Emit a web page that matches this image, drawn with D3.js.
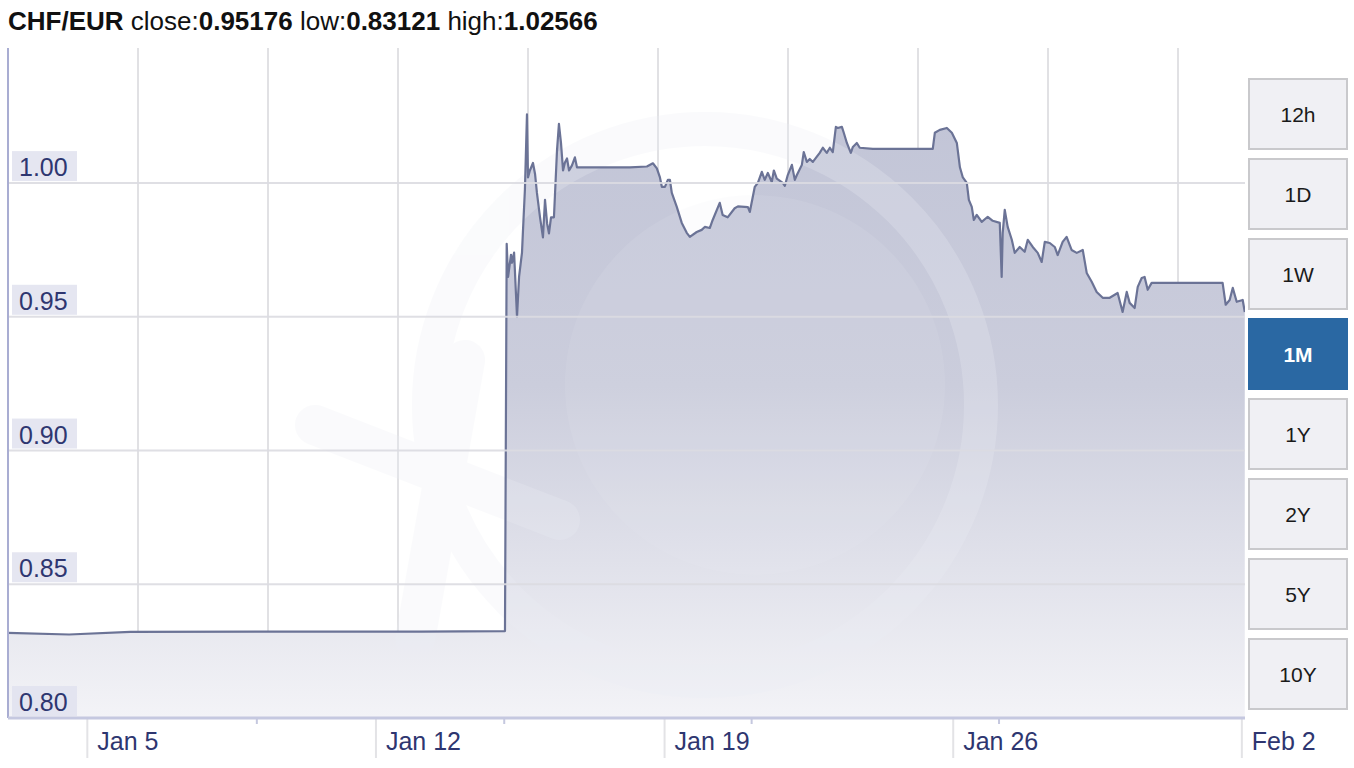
<!DOCTYPE html>
<html><head><meta charset="utf-8">
<script src="https://cdn.jsdelivr.net/npm/d3@7"></script>
<style>
body{margin:0;background:#fff;}
text{font-family:"Liberation Sans",Arial,Helvetica,sans-serif;}
</style>
</head><body>
<svg id="chart" width="1354" height="768"></svg>
<script>
// ---------- data ----------
const pair = "CHF/EUR";
const statLabels = ["close", "low", "high"];
const statValues = ["0.95176", "0.83121", "1.02566"];
const dates = [
"2015-01-03 01:50","2015-01-04 13:24","2015-01-06 01:00","2015-01-10 03:40","2015-01-13 01:30","2015-01-15 03:06",
"2015-01-15 04:06","2015-01-15 04:54","2015-01-15 06:36","2015-01-15 07:12","2015-01-15 08:24","2015-01-15 10:06",
"2015-01-15 11:18","2015-01-15 13:00","2015-01-15 13:36","2015-01-15 14:42","2015-01-15 15:54","2015-01-15 16:30",
"2015-01-15 17:36","2015-01-15 19:24","2015-01-15 20:36","2015-01-15 21:42","2015-01-15 23:30","2015-01-16 01:12",
"2015-01-16 02:24","2015-01-16 03:36","2015-01-16 04:42","2015-01-16 05:54","2015-01-16 07:36","2015-01-16 09:24",
"2015-01-16 10:30","2015-01-16 11:42","2015-01-16 12:54","2015-01-16 14:00","2015-01-16 15:12","2015-01-16 16:24",
"2015-01-16 18:06","2015-01-16 19:48","2015-01-16 21:00","2015-01-17 08:36","2015-01-18 03:48","2015-01-18 13:42",
"2015-01-18 17:12","2015-01-18 19:30","2015-01-18 21:18","2015-01-18 22:24","2015-01-19 00:12","2015-01-19 01:54",
"2015-01-19 03:06","2015-01-19 04:12","2015-01-19 07:06","2015-01-19 10:00","2015-01-19 12:54","2015-01-19 14:42",
"2015-01-19 18:42","2015-01-19 21:36","2015-01-19 23:24","2015-01-20 02:18","2015-01-20 04:00","2015-01-20 08:06",
"2015-01-20 09:48","2015-01-20 12:42","2015-01-20 16:48","2015-01-20 18:42","2015-01-21 00:30","2015-01-21 01:36",
"2015-01-21 04:30","2015-01-21 06:18","2015-01-21 08:36","2015-01-21 10:18","2015-01-21 12:06","2015-01-21 14:24",
"2015-01-21 15:36","2015-01-21 17:18","2015-01-21 20:48","2015-01-21 22:00","2015-01-21 23:42","2015-01-22 02:06",
"2015-01-22 03:48","2015-01-22 05:00","2015-01-22 07:54","2015-01-22 09:00","2015-01-22 10:48","2015-01-22 12:30",
"2015-01-22 14:18","2015-01-22 18:18","2015-01-22 20:06","2015-01-22 22:24","2015-01-23 00:12","2015-01-23 01:54",
"2015-01-23 03:42","2015-01-23 04:48","2015-01-23 07:12","2015-01-23 08:18","2015-01-23 10:06","2015-01-23 12:24",
"2015-01-23 13:36","2015-01-23 15:54","2015-01-23 17:36","2015-01-24 01:12","2015-01-24 21:00","2015-01-25 12:06",
"2015-01-25 13:18","2015-01-25 16:12","2015-01-25 20:18","2015-01-25 23:12","2015-01-26 02:06","2015-01-26 03:54",
"2015-01-26 05:36","2015-01-26 07:54","2015-01-26 09:06","2015-01-26 10:48","2015-01-26 12:00","2015-01-26 13:42",
"2015-01-26 16:36","2015-01-26 20:06","2015-01-26 23:00","2015-01-27 03:06","2015-01-27 04:12","2015-01-27 04:48",
"2015-01-27 06:00","2015-01-27 07:42","2015-01-27 10:06","2015-01-27 11:48","2015-01-27 14:42","2015-01-27 17:36",
"2015-01-27 19:24","2015-01-27 22:18","2015-01-28 01:12","2015-01-28 03:30","2015-01-28 05:18","2015-01-28 08:12",
"2015-01-28 11:06","2015-01-28 12:48","2015-01-28 15:42","2015-01-28 18:00","2015-01-28 20:54","2015-01-28 23:54",
"2015-01-29 03:24","2015-01-29 05:42","2015-01-29 08:36","2015-01-29 11:30","2015-01-29 15:00","2015-01-29 19:06",
"2015-01-29 23:42","2015-01-30 02:36","2015-01-30 05:00","2015-01-30 06:42","2015-01-30 09:36","2015-01-30 11:24",
"2015-01-30 13:42","2015-01-30 15:24","2015-01-30 17:12","2015-01-30 19:30","2015-01-31 07:42","2015-02-01 12:48",
"2015-02-01 14:36","2015-02-01 16:54","2015-02-01 18:42","2015-02-01 21:00","2015-02-02 00:30","2015-02-02 01:42"
];
const rates = [
0.8318,0.83121,0.8322,0.8323,0.8323,0.8325,
0.9773,0.9649,0.9732,0.9702,0.9740,0.9500,
0.9649,0.9740,0.9825,0.9975,1.02566,1.0021,
1.0047,1.0075,1.0034,0.9963,0.9872,0.9797,
0.9937,0.9850,0.9812,0.9872,0.9872,1.0124,
1.0221,1.0150,1.0047,1.0077,1.0092,1.0047,
1.0066,1.0096,1.0059,1.0059,1.0059,1.0062,
1.0074,1.0055,1.0021,0.9986,0.9986,1.0012,
1.0012,0.9963,0.9911,0.9851,0.9814,0.9799,
0.9817,0.9825,0.9836,0.9832,0.9862,0.9926,
0.9881,0.9872,0.9906,0.9913,0.9910,0.9892,
0.9986,1.0001,1.0042,1.0012,1.0038,1.0004,
1.0047,1.0017,1.0001,0.9990,1.0030,1.0068,
1.0012,1.0030,1.0068,1.0116,1.0079,1.0090,
1.0079,1.0113,1.0132,1.0113,1.0132,1.0116,
1.0210,1.0206,1.0210,1.0188,1.0150,1.0113,
1.0135,1.0150,1.0132,1.0128,1.0128,1.0128,
1.0188,1.0199,1.0206,1.0188,1.0150,1.0059,
1.0021,1.0001,0.9937,0.9911,0.9862,0.9881,
0.9855,0.9874,0.9859,0.9851,0.9649,0.9814,
0.9900,0.9836,0.9788,0.9739,0.9761,0.9743,
0.9788,0.9761,0.9739,0.9705,0.9780,0.9776,
0.9761,0.9731,0.9780,0.9799,0.9750,0.9739,
0.9750,0.9664,0.9631,0.9593,0.9571,0.9571,
0.9589,0.9518,0.9593,0.9552,0.9533,0.9612,
0.9645,0.9649,0.9601,0.9627,0.9627,0.9627,
0.9545,0.9563,0.9608,0.9556,0.9563,0.95176
];
const yTickValues = [0.80, 0.85, 0.90, 0.95, 1.00];
const xTickDates = ["2015-01-05 00:00","2015-01-12 00:00","2015-01-19 00:00","2015-01-26 00:00","2015-02-02 00:00"];
const minorTickDates = ["2015-01-09 02:40","2015-01-15 02:40","2015-01-21 02:40","2015-01-27 02:40"];
const domainDates = ["2015-01-03 01:50","2015-02-02 01:50"];
const yDomain = [0.80, 1.0505];
const ranges = ["12h","1D","1W","1M","1Y","2Y","5Y","10Y"];
const activeRange = "1M";

// ---------- layout ----------
const L = 8, R = 1245, T = 48, B = 718;
const parse = d3.utcParse("%Y-%m-%d %H:%M");
const series = dates.map((d, i) => ({t: parse(d), v: rates[i]}));

const x = d3.scaleUtc().domain(domainDates.map(parse)).range([L, R]);
const y = d3.scaleLinear().domain(yDomain).range([B, T]);

const svg = d3.select("#chart");
const defs = svg.append("defs");
const grad = defs.append("linearGradient").attr("id","areaGrad")
  .attr("x1",0).attr("y1",0).attr("x2",0).attr("y2",1);
grad.append("stop").attr("offset","0%").attr("stop-color","#c2c5d7");
grad.append("stop").attr("offset","45%").attr("stop-color","#cbcddc");
grad.append("stop").attr("offset","100%").attr("stop-color","#f3f3f7");

defs.append("clipPath").attr("id","plotClip").append("rect")
  .attr("x",L).attr("y",T).attr("width",R-L).attr("height",B-T);

// title
const title = svg.append("text").attr("x",8).attr("y",30).attr("font-size",26).attr("fill","#111");
title.append("tspan").attr("font-weight","bold").text(pair);
statLabels.forEach((s,i)=>{
  title.append("tspan").text(" " + s + ":");
  title.append("tspan").attr("font-weight","bold").text(statValues[i]);
});

// vertical gridlines (decorative, evenly spaced)
const gridXs = d3.range(L + 130, R, 130);
svg.append("g").selectAll("line").data(gridXs).join("line")
  .attr("x1",d=>d).attr("x2",d=>d).attr("y1",T).attr("y2",B)
  .attr("stroke","#e1e1e4").attr("stroke-width",2);

// area
const plot = svg.append("g").attr("clip-path","url(#plotClip)");
plot.append("path").datum(series)
  .attr("d", d3.area().x(d=>x(d.t)).y0(B).y1(d=>y(d.v)))
  .attr("fill","url(#areaGrad)");

// horizontal gridlines
svg.append("g").selectAll("line").data(yTickValues.filter(v=>v>yDomain[0])).join("line")
  .attr("x1",L).attr("x2",R).attr("y1",d=>y(d)).attr("y2",d=>y(d))
  .attr("stroke","#dcdce2").attr("stroke-width",2).attr("opacity",0.9);

// watermark (xe logo, faint)
const wm = plot.append("g").attr("fill","none").attr("stroke","#eceef5").attr("opacity",0.26);
wm.append("circle").attr("cx",705).attr("cy",405).attr("r",276).attr("stroke-width",34);
wm.append("circle").attr("cx",755).attr("cy",385).attr("r",190).attr("fill","#eceef5").attr("stroke","none").attr("opacity",0.45);
wm.append("line").attr("x1",315).attr("y1",425).attr("x2",560).attr("y2",520).attr("stroke-width",40).attr("stroke-linecap","round");
wm.append("line").attr("x1",465).attr("y1",360).attr("x2",415).attr("y2",640).attr("stroke-width",40).attr("stroke-linecap","round");

// line
plot.append("path").datum(series)
  .attr("d", d3.line().x(d=>x(d.t)).y(d=>y(d.v)))
  .attr("fill","none").attr("stroke","#6b7396").attr("stroke-width",2.2)
  .attr("stroke-linejoin","round");

// left axis line
svg.append("line").attr("x1",L).attr("x2",L).attr("y1",T).attr("y2",B)
  .attr("stroke","#a9add2").attr("stroke-width",2);

// y labels with boxes
const yl = svg.append("g");
yTickValues.forEach(v=>{
  const yy = y(v);
  yl.append("rect").attr("x",12).attr("y",yy-32).attr("width",65).attr("height",30)
    .attr("fill","#e1e2ef").attr("opacity",0.85);
  yl.append("text").attr("x",19).attr("y",yy-7).attr("font-size",25).attr("fill","#2e3670")
    .text(d3.format(".2f")(v));
});

// x axis
const xa = svg.append("g");
xa.selectAll(".maj").data(xTickDates.map(parse)).join("line")
  .attr("x1",d=>x(d)).attr("x2",d=>x(d)).attr("y1",B).attr("y2",B+40)
  .attr("stroke","#e3e3e6").attr("stroke-width",2);
xa.selectAll(".min").data(minorTickDates.map(parse)).join("line")
  .attr("x1",d=>x(d)).attr("x2",d=>x(d)).attr("y1",B).attr("y2",B+6)
  .attr("stroke","#c5c8df").attr("stroke-width",2);
xa.append("line").attr("x1",L).attr("x2",R).attr("y1",B).attr("y2",B)
  .attr("stroke","#c5c8e0").attr("stroke-width",3);
const fmt = d3.utcFormat("%b %-d");
xa.selectAll("text").data(xTickDates.map(parse)).join("text")
  .attr("x",d=>x(d)+10).attr("y",750).attr("font-size",25).attr("fill","#2e3670")
  .text(d=>fmt(d));

// range buttons
const bx = 1249, bw = 98, bh = 70, by0 = 79, gap = 80;
const btn = svg.append("g").selectAll("g").data(ranges).join("g")
  .attr("transform",(d,i)=>`translate(${bx},${by0 + i*gap})`);
btn.append("rect").attr("width",bw).attr("height",bh)
  .attr("fill",d=>d===activeRange?"#2a68a3":"#f0f0f4")
  .attr("stroke",d=>d===activeRange?"#2a68a3":"#c9c9cc").attr("stroke-width",2);
btn.append("text").attr("x",bw/2).attr("y",43).attr("text-anchor","middle")
  .attr("font-size",21).attr("font-weight",d=>d===activeRange?"bold":"normal")
  .attr("fill",d=>d===activeRange?"#fff":"#1a1a1a").text(d=>d);
</script>
</body></html>
